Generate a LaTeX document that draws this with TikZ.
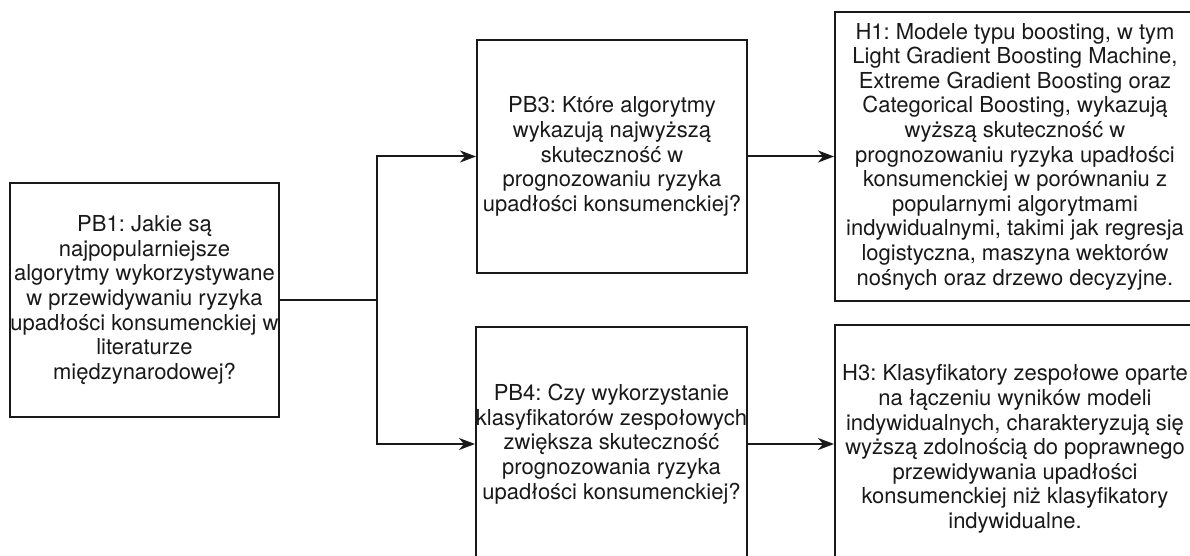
\documentclass[tikz,border=0pt]{standalone}
\usepackage{fontspec}
\setmainfont{TeX Gyre Heros}
\usetikzlibrary{arrows.meta}
\begin{document}
\frenchspacing
\begin{tikzpicture}[x=1pt,y=-1pt,
  box/.style={draw=black!90, line width=2pt, rectangle, inner sep=0pt, align=center,
    text=black!90, font=\fontsize{22}{24.6}\selectfont},
  conn/.style={draw=black!90, line width=2pt},
  arr/.style={conn, -{Stealth[length=16pt,width=12pt,inset=5pt]}}]
\useasboundingbox (0,0) rectangle (1190,556);
\clip (0,0) rectangle (1190,556);
\node[box, minimum width=269pt, minimum height=234pt] (pb1) at (144.5,300)
  {PB1: Jakie są\\najpopularniejsze\\algorytmy wykorzystywane\\w przewidywaniu ryzyka\\upadłości konsumenckiej w\\literaturze\\międzynarodowej?};
\node[box, minimum width=270pt, minimum height=233pt] (pb3) at (612,156.5)
  {PB3: Które algorytmy\\wykazują najwyższą\\skuteczność w\\prognozowaniu ryzyka\\upadłości konsumenckiej?};
\node[box, minimum width=269pt, minimum height=234pt] (pb4) at (611.5,444)
  {PB4: Czy wykorzystanie\\klasyfikatorów zespołowych\\zwiększa skuteczność\\prognozowania ryzyka\\upadłości konsumenckiej?};
\node[box, minimum width=360pt, minimum height=289pt] (h1) at (1015,156.5)
  {H1: Modele typu boosting, w tym\\Light Gradient Boosting Machine,\\Extreme Gradient Boosting oraz\\Categorical Boosting, wykazują\\wyższą skuteczność w\\prognozowaniu ryzyka upadłości\\konsumenckiej w porównaniu z\\popularnymi algorytmami\\indywidualnymi, takimi jak regresja\\logistyczna, maszyna wektorów\\nośnych oraz drzewo decyzyjne.};
\node[box, minimum width=360pt, minimum height=248pt] (h3) at (1015,449)
  {H3: Klasyfikatory zespołowe oparte\\na łączeniu wyników modeli\\indywidualnych, charakteryzują się\\wyższą zdolnością do poprawnego\\przewidywania upadłości\\konsumenckiej niż klasyfikatory\\indywidualne.};
\coordinate (j) at (377,300);
\draw[conn] (pb1.east) -- (j);
\draw[arr] (j) |- (pb3.west);
\draw[arr] (j) |- (pb4.west);
\draw[arr] (pb3.east) -- (pb3.east -| h1.west);
\draw[arr] (pb4.east) -- (pb4.east -| h3.west);
\end{tikzpicture}
\end{document}
